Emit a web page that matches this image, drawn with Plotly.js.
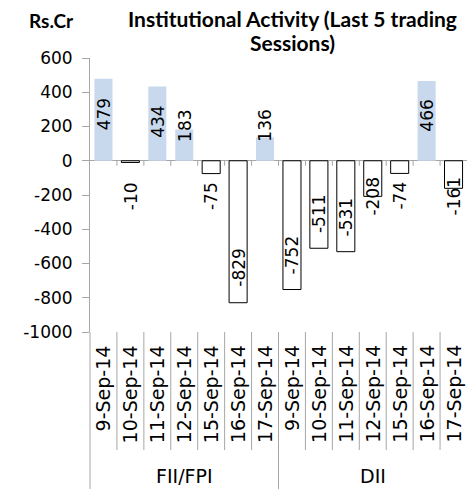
<!DOCTYPE html>
<html>
<head>
<meta charset="utf-8">
<script src="https://cdn.plot.ly/plotly-3.0.1.min.js"></script>
<style>html,body{margin:0;padding:0;background:#fff;}#chart{width:467px;height:489px;}</style>
</head>
<body>
<div id="chart"></div>
<script>
const dates = ['9-Sep-14','10-Sep-14','11-Sep-14','12-Sep-14','15-Sep-14','16-Sep-14','17-Sep-14'];
const groups = ['FII/FPI','DII'];
const fiiValues = [479,-10,434,183,-75,-829,136];
const diiValues = [-752,-511,-531,-208,-74,466,-161];
const yTickVals = [600,400,200,0,-200,-400,-600,-800,-1000];
const titleLines = ['Institutional Activity (Last 5 trading', 'Sessions)'];
const unitText = 'Rs.Cr';

const values = fiiValues.concat(diiValues);
const labels = dates.concat(dates);
const xs = values.map((v,i)=>i);

const posColor = '#c9d9ed';
const axisGray = '#a6a6a6';
const fillColors = values.map(v => v >= 0 ? posColor : '#ffffff');
const lineColors = values.map(v => v >= 0 ? posColor : '#000000');
const lineWidths = values.map(v => v >= 0 ? 0 : 1);

const plotLeft = 90, plotW = 377;
const plotTop = 58, plotBottom = 332, H = 489;
const plotH = plotBottom - plotTop;
const pxToPaperY = px => (plotBottom - px) / plotH;
const pxToPaperX = px => (px - plotLeft) / plotW;

const trace = {
  type: 'bar',
  x: xs,
  y: values,
  marker: {color: fillColors, line: {color: lineColors, width: lineWidths}},
  width: 0.67,
  hoverinfo: 'skip'
};

const annotations = [];
// data labels
values.forEach((v,i)=>{
  const s = v >= 0 ? 1 : -1;
  const c = s * Math.max(Math.abs(v) - 205, 205);
  annotations.push({
    x: i, y: c, xref: 'x', yref: 'y', text: String(v), showarrow: false,
    textangle: -90, xanchor: 'center', yanchor: 'middle',
    font: {family: 'DejaVu Sans', size: 17, color: '#000'}
  });
});
// date labels
labels.forEach((t,i)=>{
  annotations.push({
    x: i, y: pxToPaperY(343), xref: 'x', yref: 'paper', text: t, showarrow: false,
    textangle: -90, xanchor: 'center', yanchor: 'top',
    font: {family: 'DejaVu Sans', size: 19, color: '#000'}
  });
});
// group labels
groups.forEach((g,k)=>{
  annotations.push({
    x: k*7 + 3, y: pxToPaperY(476), xref: 'x', yref: 'paper', text: g, showarrow: false,
    xanchor: 'center', yanchor: 'middle',
    font: {family: 'DejaVu Sans', size: 19, color: '#000'}
  });
});
// unit label
annotations.push({
  x: pxToPaperX(51), y: pxToPaperY(20), xref: 'paper', yref: 'paper', text: '<b>' + unitText + '</b>',
  showarrow: false, xanchor: 'center', yanchor: 'middle',
  font: {family: 'Lato', size: 19, color: '#000'}
});
// title (two lines)
titleLines.forEach((t,k)=>{
  annotations.push({
    x: pxToPaperX(292), y: pxToPaperY(19 + k * 23), xref: 'paper', yref: 'paper', text: '<b>' + t + '</b>',
    showarrow: false, xanchor: 'center', yanchor: 'middle',
    font: {family: 'Lato', size: 21, color: '#000'}
  });
});

const shapes = [];
// small ticks on zero line and date separators
for (let i = 0; i < values.length - 1; i++) {
  shapes.push({type: 'line', xref: 'x', yref: 'y', ysizemode: 'pixel', yanchor: 0,
    x0: i + 0.5, x1: i + 0.5, y0: 0, y1: -5, line: {color: axisGray, width: 1}});
  const isGroup = (i + 1) % dates.length === 0;
  shapes.push({type: 'line', xref: 'x', yref: 'paper',
    x0: i + 0.5, x1: i + 0.5, y0: 0, y1: pxToPaperY(isGroup ? 489 : 450),
    line: {color: axisGray, width: 1}});
}
// left axis continuation
shapes.push({type: 'line', xref: 'paper', yref: 'paper', x0: 0, x1: 0, y0: 0, y1: pxToPaperY(489),
  line: {color: axisGray, width: 1}});

const layout = {
  width: 467, height: 489,
  margin: {l: plotLeft, r: 467 - plotLeft - plotW, t: plotTop, b: H - plotBottom, pad: 0},
  paper_bgcolor: '#fff', plot_bgcolor: '#fff',
  showlegend: false,
  xaxis: {range: [-0.5, values.length - 0.5], showticklabels: false, showline: false,
    zeroline: false, showgrid: false, ticks: '', fixedrange: true},
  yaxis: {range: [-1000, 600], tickmode: 'array', tickvals: yTickVals,
    ticktext: yTickVals.map(String),
    showline: true, linecolor: axisGray, linewidth: 1,
    ticks: 'outside', ticklen: 7, tickcolor: axisGray, tickwidth: 1,
    ticklabelstandoff: 6,
    showgrid: false, zeroline: true, zerolinecolor: axisGray, zerolinewidth: 1,
    tickfont: {family: 'DejaVu Sans', size: 17, color: '#000'}, fixedrange: true},
  annotations: annotations,
  shapes: shapes
};

Plotly.newPlot('chart', [trace], layout, {displayModeBar: false, staticPlot: true});
</script>
</body>
</html>
